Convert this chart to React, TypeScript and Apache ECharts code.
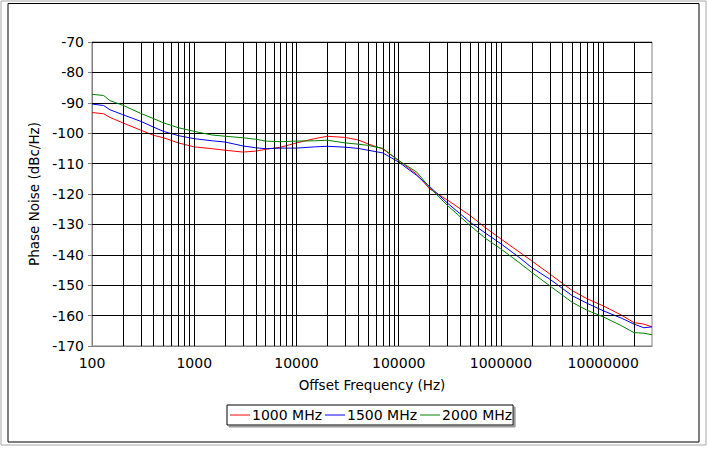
import React, { useEffect, useRef } from "react";
import * as echarts from "echarts";

const freqs = [100, 130, 150, 200, 300, 400, 500, 700, 1000, 1500, 2000, 3000, 4000, 5000, 7000, 10000, 15000, 20000, 30000, 40000, 50000, 70000, 100000, 150000, 200000, 300000, 500000, 700000, 1000000, 1500000, 2000000, 3000000, 5000000, 7000000, 10000000, 15000000, 20000000, 25000000, 30000000];

const red1000 = [-93.2, -93.6, -94.8, -96.6, -99.0, -100.7, -101.5, -103.2, -104.5, -105.1, -105.6, -106.2, -105.9, -105.3, -104.6, -103.2, -101.8, -101.0, -101.4, -102.2, -103.5, -105.2, -109.0, -113.5, -118.3, -122.0, -127.1, -131.0, -134.8, -139.0, -142.0, -146.3, -151.8, -154.5, -156.8, -159.8, -162.3, -162.8, -163.7];

const blue1500 = [-90.4, -90.9, -92.3, -93.9, -96.1, -98.0, -99.4, -100.8, -101.8, -102.5, -102.9, -104.2, -104.8, -105.1, -104.9, -104.9, -104.5, -104.3, -104.6, -105.0, -105.6, -106.5, -109.5, -113.9, -117.5, -123.0, -129.3, -132.8, -136.4, -140.8, -144.2, -148.0, -153.5, -156.0, -158.4, -160.8, -162.8, -164.0, -163.7];

const green2000 = [-87.2, -87.6, -89.3, -90.8, -93.5, -95.2, -96.6, -98.2, -99.4, -100.6, -101.0, -101.5, -102.0, -102.6, -102.8, -102.6, -102.5, -102.3, -103.2, -103.6, -104.0, -105.0, -109.0, -112.8, -117.8, -123.8, -130.4, -134.5, -138.1, -142.5, -145.8, -150.2, -155.7, -158.3, -160.4, -163.3, -165.6, -165.8, -166.3];

const seriesNames = ["1000 MHz", "1500 MHz", "2000 MHz"];
const seriesColors = ["#ff0000", "#0000ff", "#008000"];

const decades = [100, 1000, 10000, 100000, 1000000, 10000000];
const multipliers = [1, 2, 3, 4, 5, 6, 7, 8, 9];
const yTicks = [-160, -150, -140, -130, -120, -110, -100, -90, -80, -70];

const X_MIN = 100;
const X_MAX = 30000000;

export default function App() {
  const ref = useRef<HTMLDivElement>(null);

  useEffect(() => {
    if (!ref.current) return;
    const chart = echarts.init(ref.current, null, { renderer: "svg" });

    const vLines: number[] = [];
    decades.forEach((d) => {
      multipliers.forEach((m) => {
        const v = d * m;
        if (v > X_MIN && v < X_MAX) vLines.push(v);
      });
    });

    const font = "DejaVu Sans";
    const allSeries = [red1000, blue1500, green2000];

    chart.setOption({
      animation: false,
      backgroundColor: "#ffffff",
      textStyle: { fontFamily: font, color: "#000" },
      graphic: [
        {
          type: "rect",
          shape: { x: 1, y: 1, width: 705, height: 444 },
          style: { fill: "none", stroke: "#a8a8a8", lineWidth: 1 },
          silent: true,
        },
        {
          type: "rect",
          shape: { x: 8, y: 3.5, width: 691, height: 438.5 },
          style: { fill: "none", stroke: "#000", lineWidth: 1 },
          silent: true,
        },
      ],
      grid: {
        left: 92,
        right: 56,
        top: 42,
        bottom: 104,
        show: true,
        borderColor: "#808080",
        borderWidth: 1,
        backgroundColor: "transparent",
      },
      legend: {
        data: seriesNames,
        top: 405,
        left: 227,
        icon: "rect",
        itemWidth: 20,
        itemHeight: 1,
        itemGap: 3,
        padding: [3, 1, 3, 3],
        borderColor: "#000",
        borderWidth: 1,
        backgroundColor: "#fff",
        shadowColor: "#9a9a9a",
        shadowOffsetX: 2,
        shadowOffsetY: 2,
        shadowBlur: 0,
        textStyle: { fontFamily: font, fontSize: 14, color: "#000", padding: [0, 0, 0, -3] },
      },
      xAxis: {
        type: "log",
        logBase: 10,
        min: X_MIN,
        max: X_MAX,
        name: "Offset Frequency (Hz)",
        nameLocation: "middle",
        nameGap: 32,
        nameTextStyle: { fontFamily: font, fontSize: 13.5, color: "#000" },
        axisLine: { show: true, lineStyle: { color: "#808080", width: 1 } },
        axisTick: { show: false },
        splitLine: { show: false },
        axisLabel: {
          margin: 10,
          fontFamily: font,
          fontSize: 14,
          color: "#000",
          formatter: (v: number) => {
            const l = Math.log10(v);
            if (Math.abs(l - Math.round(l)) < 1e-6) return String(Math.round(v));
            return "";
          },
        },
      },
      yAxis: {
        type: "value",
        min: -170,
        max: -70,
        interval: 10,
        name: "Phase Noise (dBc/Hz)",
        nameLocation: "middle",
        nameGap: 47,
        nameTextStyle: { fontFamily: font, fontSize: 13.5, color: "#000" },
        axisLine: { show: true, lineStyle: { color: "#808080", width: 1 } },
        axisTick: { show: true, inside: false, length: 4, lineStyle: { color: "#808080" } },
        splitLine: { show: false },
        axisLabel: { margin: 8, fontFamily: font, fontSize: 14, color: "#000" },
      },
      series: [
        {
          name: "grid",
          type: "line",
          data: [],
          z: 1,
          silent: true,
          markLine: {
            silent: true,
            symbol: ["none", "none"],
            label: { show: false },
            lineStyle: { color: "#000", width: 1, type: "solid" },
            emphasis: { disabled: true },
            data: [
              ...vLines.map((v) => ({ xAxis: v })),
              ...yTicks.map((v) => ({ yAxis: v })),
            ],
          },
        },
        ...allSeries.map((vals, i) => ({
          name: seriesNames[i],
          type: "line",
          data: freqs.map((f, j) => [f, vals[j]]),
          showSymbol: false,
          symbol: "none",
          z: 3 + i,
          lineStyle: { color: seriesColors[i], width: 1 },
          itemStyle: { color: seriesColors[i] },
        })),
      ],
    });

    return () => chart.dispose();
  }, []);

  return (
    <div
      ref={ref}
      style={{ position: "fixed", left: 0, top: 0, width: 708, height: 450 }}
    />
  );
}
